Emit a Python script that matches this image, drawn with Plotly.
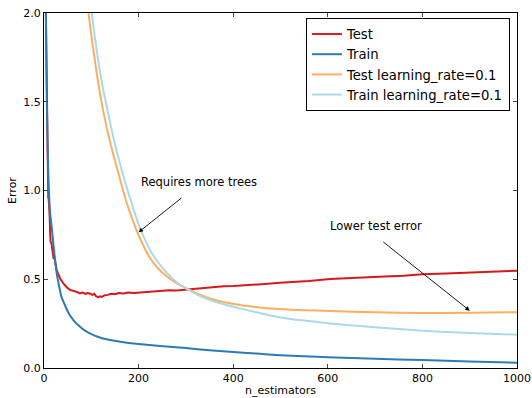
import plotly.graph_objects as go

# ---- data ----
test_n = [2, 4, 5, 6, 7, 8, 9, 10, 11, 12, 13, 14, 16, 18, 20, 22, 24, 27, 30, 35, 41, 48, 55,
          62, 70, 76, 82, 88, 92, 97, 102, 106, 110, 115, 118, 122, 129, 135, 142, 150, 158,
          168, 178, 190, 203, 215, 225, 238, 250, 265, 280, 302, 320, 340, 360, 380, 400,
          430, 460, 499, 530, 560, 605, 640, 680, 720, 760, 800, 850, 900, 950, 1000]
test_err = [2.4, 2.0, 1.6, 1.3, 1.1, 1.02, 0.96, 0.95, 0.92, 0.85, 0.76, 0.71, 0.70, 0.66, 0.62,
            0.62, 0.59, 0.55, 0.53, 0.50, 0.477, 0.455, 0.44, 0.435, 0.428, 0.42, 0.425, 0.418,
            0.422, 0.42, 0.412, 0.418, 0.405, 0.398, 0.404, 0.400, 0.41, 0.412, 0.418, 0.416,
            0.422, 0.42, 0.425, 0.423, 0.426, 0.43, 0.432, 0.435, 0.434, 0.438, 0.437, 0.443,
            0.447, 0.452, 0.455, 0.46, 0.462, 0.466, 0.472, 0.48, 0.484, 0.49, 0.501, 0.504,
            0.51, 0.515, 0.52, 0.528, 0.533, 0.538, 0.544, 0.548]

train_n = [2, 3, 4, 5, 6, 8, 10, 13, 16, 19, 23, 27, 32, 37, 45, 52, 62, 75, 85, 97, 115, 135,
           161, 200, 245, 300, 350, 393, 450, 499, 550, 600, 700, 800, 900, 1000]
train_err = [3.0, 2.4, 2.0, 1.75, 1.5, 1.2, 1.02, 0.87, 0.8, 0.72, 0.62, 0.53, 0.46, 0.40,
             0.35, 0.31, 0.27, 0.235, 0.213, 0.195, 0.175, 0.16, 0.148, 0.135, 0.124, 0.112,
             0.10, 0.092, 0.081, 0.072, 0.066, 0.06, 0.052, 0.045, 0.037, 0.03]

test_lr_n = [80, 94, 105, 115, 125, 140, 159, 175, 195, 210, 224, 240, 260, 280, 302, 330,
             360, 414, 460, 499, 550, 605, 700, 800, 900, 1000]
test_lr_err = [2.35, 2.0, 1.78, 1.6, 1.45, 1.27, 1.08, 0.93, 0.78, 0.69, 0.62, 0.565, 0.515,
               0.478, 0.448, 0.412, 0.385, 0.355, 0.34, 0.332, 0.326, 0.321, 0.314, 0.31,
               0.311, 0.314]

train_lr_n = [88, 101, 112, 123, 136, 150, 169, 185, 204, 215, 224, 240, 260, 280, 302, 330,
              360, 414, 460, 499, 550, 605, 700, 800, 900, 1000]
train_lr_err = [2.35, 2.0, 1.78, 1.6, 1.43, 1.26, 1.07, 0.93, 0.78, 0.715, 0.665, 0.6, 0.535,
                0.485, 0.445, 0.405, 0.375, 0.336, 0.307, 0.285, 0.267, 0.251, 0.229, 0.21,
                0.197, 0.188]

series = [
    ("Test", test_n, test_err, "#d7191c", "linear"),
    ("Train", train_n, train_err, "#2c7bb6", "spline"),
    ("Test learning_rate=0.1", test_lr_n, test_lr_err, "#fdae61", "spline"),
    ("Train learning_rate=0.1", train_lr_n, train_lr_err, "#abd9e9", "spline"),
]

x_ticks = [0, 200, 400, 600, 800, 1000]
y_ticks = [0.0, 0.5, 1.0, 1.5, 2.0]
y_tick_labels = ["0.0", "0.5", "1.0", "1.5", "2.0"]

fig = go.Figure()
for name, xs, ys, color, shape in series:
    line = dict(color=color, width=2, shape=shape)
    if shape == "spline":
        line["smoothing"] = 0.6
    fig.add_trace(go.Scatter(x=xs, y=ys, mode="lines", name=name, line=line))

FONT = "DejaVu Sans"
fig.update_layout(
    width=532, height=398,
    margin=dict(l=44, r=15, t=13, b=30, autoexpand=False),
    paper_bgcolor="white", plot_bgcolor="white",
    font=dict(family=FONT, size=11, color="black"),
    showlegend=True,
    legend=dict(x=0.985, y=0.986, xanchor="right", yanchor="top",
                bgcolor="white", bordercolor="black", borderwidth=1,
                font=dict(size=13.2), tracegroupgap=0, itemwidth=30),
)
fig.update_xaxes(range=[0, 1000], tickvals=x_ticks, ticks="inside", ticklen=4,
                 showline=True, linecolor="black", linewidth=1, mirror="ticks",
                 showgrid=False, zeroline=False, automargin=False,
                 title=dict(text="n_estimators", standoff=2, font=dict(size=11)))
fig.update_yaxes(range=[0, 2], tickvals=y_ticks, ticktext=y_tick_labels, ticks="inside",
                 ticklen=4, showline=True, linecolor="black", linewidth=1, mirror="ticks",
                 showgrid=False, zeroline=False, automargin=False,
                 title=dict(text="Error", standoff=4, font=dict(size=11)))

# annotations: arrows and texts
fig.add_annotation(x=200, y=0.765, ax=294, ay=0.965, xref="x", yref="y", axref="x", ayref="y",
                   text="", showarrow=True, arrowhead=2, arrowsize=1, arrowwidth=0.9,
                   arrowcolor="black")
fig.add_annotation(x=200, y=1.0, xref="x", yref="y", text="Requires more trees",
                   showarrow=False, xanchor="left", yanchor="bottom", font=dict(size=11.5))
fig.add_annotation(x=900, y=0.323, ax=714, ay=0.717, xref="x", yref="y", axref="x", ayref="y",
                   text="", showarrow=True, arrowhead=2, arrowsize=1, arrowwidth=0.9,
                   arrowcolor="black")
fig.add_annotation(x=600, y=0.75, xref="x", yref="y", text="Lower test error",
                   showarrow=False, xanchor="left", yanchor="bottom", font=dict(size=11.5))

fig.write_html("out.html", config={"displayModeBar": False},
               post_script="document.body.style.margin='0';document.body.style.padding='0';")
